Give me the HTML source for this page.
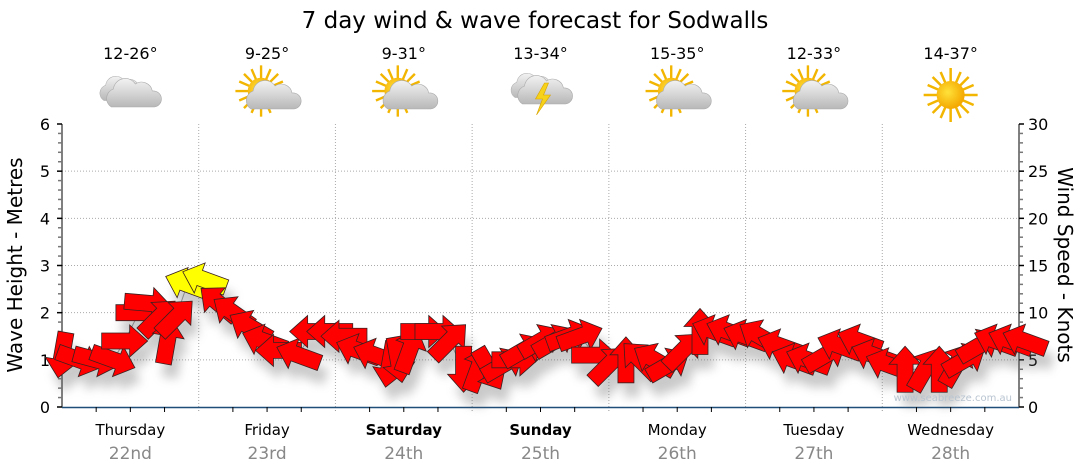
<!DOCTYPE html>
<html><head><meta charset="utf-8">
<style>
html,body{margin:0;padding:0;background:#fff;}
svg{display:block;font-family:"DejaVu Sans","Liberation Sans",Verdana,sans-serif;}
</style></head>
<body>
<svg id="chart" width="1080" height="475" viewBox="0 0 1080 475" xmlns="http://www.w3.org/2000/svg">
<defs>
  <filter id="shadow" x="-50%" y="-50%" width="200%" height="250%">
    <feGaussianBlur stdDeviation="5"/>
  </filter>
  <radialGradient id="sunG" cx="0.4" cy="0.4" r="0.6"><stop offset="0" stop-color="#ffe23a"/><stop offset="1" stop-color="#f4a800"/></radialGradient>
  <linearGradient id="cloudG" x1="0" y1="0" x2="0" y2="1"><stop offset="0" stop-color="#f2f2f2"/><stop offset="1" stop-color="#b8b8b8"/></linearGradient>
  <g id="sun">
    <g stroke="#f2b500" stroke-width="2.5">
      <line x1="0" y1="-27" x2="0" y2="27"/><line x1="-27" y1="0" x2="27" y2="0"/>
      <line x1="-18" y1="-18" x2="18" y2="18"/><line x1="-18" y1="18" x2="18" y2="-18"/>
      <line x1="-10" y1="-23" x2="10" y2="23"/><line x1="-23" y1="-10" x2="23" y2="10"/>
      <line x1="-10" y1="23" x2="10" y2="-23"/><line x1="-23" y1="10" x2="23" y2="-10"/>
    </g>
    <circle r="14" fill="url(#sunG)"/>
  </g>
  <g id="cloud">
    <path d="M-24,10 a10,10 0 0 1 2,-18 a12,12 0 0 1 22,-5 a11,11 0 0 1 17,7 a8,8 0 0 1 2,16 z" fill="url(#cloudG)" stroke="#aaa" stroke-width="0.6"/>
  </g>
</defs>
<text x="535" y="28" font-size="23" text-anchor="middle" fill="#000">7 day wind &amp; wave forecast for Sodwalls</text>
<g id="weather"></g>
<g id="grid"></g>
<g id="axes"></g>
<g id="marks"></g>
<text x="1012" y="401" font-size="10" text-anchor="end" fill="#b8c4d0">www.seabreeze.com.au</text>
<text transform="translate(22,265) rotate(-90)" font-size="20" text-anchor="middle">Wave Height - Metres</text>
<text transform="translate(1058,265) rotate(90)" font-size="20" text-anchor="middle">Wind Speed - Knots</text>
</svg>
<script>
const dayNames = ["Thursday","Friday","Saturday","Sunday","Monday","Tuesday","Wednesday"];
const dayDates = ["22nd","23rd","24th","25th","26th","27th","28th"];
const dayBold = [false,false,true,true,false,false,false];
const tempRanges = ["12-26°","9-25°","9-31°","13-34°","15-35°","12-33°","14-37°"];
const weatherTypes = ["cloudy","partly","partly","storm","partly","partly","sunny"];
const waveTicks = [0,1,2,3,4,5,6];
const windTicks = [0,5,10,15,20,25,30];
// wind series: hour offset from start, speed (knots), arrow heading (deg, screen: 0 = right, 90 = down)
const windHours = [0,3,6,9,11,13.5,15,17,18.5,20,22,25,27.5,30,33,35.5,38,41.5,44,47,49.5,52,55,57.5,59,61,63.5,66,68,70.5,73,75,77.5,79.5,81,84,86.5,89,91,93.5,96,99,101.5,104,106.5,109,112,114.5,117,120,122.5,126,128.5,131,134,136.5,140,142.5,145,148,151.5,154,157,158.5,161,164,166.5,169];
const windSpeed = [5.5,5,5,5,7,10,11,9.5,7,9.5,13,13.5,11,10,8.5,7,6,5.5,8,8,7.5,6,5.5,4.5,5,6,8,8,7,4,4,4,4.5,5,6,7,7,7.5,7.5,5.5,4.5,5,5,5,4.5,6,8,8,8,7.5,7.5,6.5,5,5,5.5,6.5,7,5.5,4.5,4,4,4,4.5,5,6.5,7,7,7,6.5];
const windDir = [100,20,15,20,0,0,5,-45,-80,-45,200,200,220,215,210,200,180,200,180,180,180,200,200,100,80,-70,0,0,-45,90,-70,60,-30,0,-30,-30,-30,-20,-20,0,-45,-90,-135,-150,-30,-45,-90,200,200,200,210,200,200,200,-30,200,200,200,200,-90,-60,-90,-60,-30,-30,200,200,200,20];

const NS='http://www.w3.org/2000/svg';
const X0=62, X1=1019, Y0=407, Y1=124;
const TOTAL_H=168;
function xOfHour(h){return X0+(h/TOTAL_H)*(X1-X0);}
function yWave(m){return Y0-(m/6)*(Y0-Y1);}
function yWind(k){return Y0-(k/30)*(Y0-Y1);}
function el(tag,attrs,parent){const e=document.createElementNS(NS,tag);for(const k in attrs)e.setAttribute(k,attrs[k]);parent.appendChild(e);return e;}
const grid=document.getElementById('grid'), axes=document.getElementById('axes'), marks=document.getElementById('marks'), weather=document.getElementById('weather');
const dayW=(X1-X0)/7;

waveTicks.forEach(v=>{ if(v>0&&v<6){ const g=el('line',{x1:X0,x2:X1,y1:yWave(v),y2:yWave(v),stroke:'#aaa','stroke-dasharray':'1,2'},grid);

}});
for(let d=1;d<7;d++){ const x=xOfHour(d*24); const g=el('line',{x1:x,x2:x,y1:Y1,y2:Y0,stroke:'#aaa','stroke-dasharray':'1,2'},grid);


 const t=el('line',{x1:x,x2:x,y1:Y0,y2:Y0+6,stroke:'#999','stroke-dasharray':'1,2'},grid);

}

el('line',{x1:X0,x2:X0,y1:Y1,y2:Y0,stroke:'#000'},axes);
el('line',{x1:X1,x2:X1,y1:Y1,y2:Y0,stroke:'#000'},axes);
const base=el('line',{x1:X0,x2:X1,y1:Y0+0.5,y2:Y0+0.5,stroke:'#1f4e79','stroke-width':1.5},axes);


for(let i=0;i<=30;i++){ const y=yWave(i*0.2); el('line',{x1:X0-(i%5==0?5:4),x2:X0,y1:y,y2:y,stroke:i%5==0?'#000':'#777','stroke-width':1.5},axes);}
for(let i=0;i<=30;i++){ const y=yWind(i); el('line',{x1:X1,x2:X1+(i%5==0?5:4),y1:y,y2:y,stroke:i%5==0?'#000':'#777','stroke-width':1.5},axes);}
waveTicks.forEach(v=>{const t=el('text',{x:X0-12,y:yWave(v)+6,'font-size':16,'text-anchor':'end'},axes);t.textContent=v;

});
windTicks.forEach(v=>{const t=el('text',{x:X1+9,y:yWind(v)+6,'font-size':16,'text-anchor':'start'},axes);t.textContent=v;

});
for(let h=6;h<168;h+=6){ if(h%24) { el('line',{x1:xOfHour(h),x2:xOfHour(h),y1:Y0,y2:Y0+5,stroke:'#000'},axes);} }
dayNames.forEach((n,i)=>{const cx=X0+dayW*(i+0.5);
 const t=el('text',{x:cx,y:435,'font-size':15,'text-anchor':'middle','font-weight':dayBold[i]?'bold':'normal'},axes);t.textContent=n;


 const d=el('text',{x:cx,y:459,'font-size':17,'text-anchor':'middle',fill:'#888'},axes);d.textContent=dayDates[i];


 const tr=el('text',{x:cx,y:59,'font-size':16,'text-anchor':'middle'},weather);tr.textContent=tempRanges[i];


 const g=el('g',{transform:`translate(${cx},95)`},weather);


 const w=weatherTypes[i];
 if(w==='cloudy'){el('use',{href:'#cloud',transform:'translate(-6,-3) scale(0.85)'},g);el('use',{href:'#cloud',transform:'translate(5,2)'},g);}
 else if(w==='partly'){el('use',{href:'#sun',transform:'translate(-6,-4) scale(0.95)'},g);el('use',{href:'#cloud',transform:'translate(8,4)'},g);}
 else if(w==='sunny'){el('use',{href:'#sun'},g);}
 else {el('use',{href:'#cloud',transform:'translate(-5,-6) scale(0.85)'},g);el('use',{href:'#cloud',transform:'translate(6,-1)'},g);
   el('path',{d:'M4,-12 L-5,4 L2,4 L-4,20 L10,0 L3,0 L8,-12 Z',fill:'#f7d21a',stroke:'#d9a400','stroke-width':0.6},g);}
});

let pd='';
windHours.forEach((h,i)=>{pd+=(i?'L':'M')+xOfHour(h).toFixed(1)+','+yWind(windSpeed[i]).toFixed(1);});
const ln=el('path',{d:pd,fill:'none',stroke:'#999','stroke-width':1},marks);



const arrowPath='M-23,-8 L5,-8 L5,-16 L23,0 L5,16 L5,8 L-23,8 Z';
const shadowG=el('g',{filter:'url(#shadow)',opacity:0.35},marks);
windHours.forEach((h,i)=>{
 const x=xOfHour(h), y=yWind(windSpeed[i]);
 el('path',{d:arrowPath,fill:'#666',transform:`translate(${x+6},${y+14}) rotate(${windDir[i]})`},shadowG);
});
windHours.forEach((h,i)=>{
 const x=xOfHour(h), y=yWind(windSpeed[i]);
 const a=el('path',{d:arrowPath,fill:windSpeed[i]>=12?'#ffff00':'#ff0000',stroke:'#3a2020','stroke-width':0.8,transform:`translate(${x},${y}) rotate(${windDir[i]})`},marks);


});
</script>
</body></html>
